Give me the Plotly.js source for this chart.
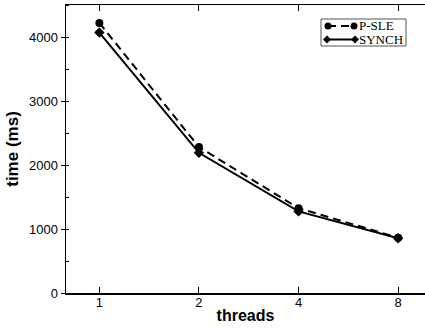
<!DOCTYPE html>
<html>
<head>
<meta charset="utf-8">
<script src="https://cdn.plot.ly/plotly-3.0.1.min.js"></script>
<style>html,body{margin:0;padding:0;background:#fff;}#chart{width:425px;height:328px;}</style>
</head>
<body>
<div id="chart"></div>
<script>
const threads = ['1', '2', '4', '8'];
const psle = [4220, 2280, 1325, 865];
const synch = [4070, 2190, 1275, 855];
const seriesNames = ['P-SLE', 'SYNCH'];
const yTicks = [0, 1000, 2000, 3000, 4000];

const traces = [
  {
    x: threads, y: psle, name: seriesNames[0], type: 'scatter', mode: 'lines+markers',
    line: {color: '#000', width: 2, dash: '8px,5px'},
    marker: {symbol: 'circle', size: 8, color: '#000'}
  },
  {
    x: threads, y: synch, name: seriesNames[1], type: 'scatter', mode: 'lines+markers',
    line: {color: '#000', width: 2},
    marker: {symbol: 'diamond', size: 8, color: '#000'}
  }
];

// Compact legend drawn as decoration (plot area: 66..425 px wide, 5..293 px tall)
const W = 359, H = 288;
function px(x) { return (x - 66) / W; }
function py(y) { return (293 - y) / H; }
function circ(cx, cy, r) {
  return {type: 'circle', xref: 'paper', yref: 'paper', x0: px(cx - r), x1: px(cx + r), y0: py(cy + r), y1: py(cy - r),
    fillcolor: '#000', line: {color: '#000', width: 0}};
}
function diam(cx, cy, r) {
  return {type: 'path', xref: 'paper', yref: 'paper',
    path: 'M' + px(cx - r) + ',' + py(cy) + ' L' + px(cx) + ',' + py(cy - r) + ' L' + px(cx + r) + ',' + py(cy) + ' L' + px(cx) + ',' + py(cy + r) + ' Z',
    fillcolor: '#000', line: {color: '#000', width: 0}};
}
const shapes = [
  {type: 'rect', xref: 'paper', yref: 'paper', x0: px(321), x1: px(406), y0: py(46), y1: py(19),
    fillcolor: '#fff', line: {color: '#555', width: 1}},
  {type: 'line', xref: 'paper', yref: 'paper', x0: px(328), x1: px(354), y0: py(26), y1: py(26),
    line: {color: '#000', width: 2, dash: '8px,5px'}},
  circ(328, 26, 3.5), circ(354, 26, 3.5),
  {type: 'line', xref: 'paper', yref: 'paper', x0: px(327), x1: px(355), y0: py(39.5), y1: py(39.5),
    line: {color: '#000', width: 2}},
  diam(327, 39.5, 4), diam(355, 39.5, 4)
];
const annotations = [
  {xref: 'paper', yref: 'paper', x: px(357), y: py(26), xanchor: 'left', yanchor: 'middle', showarrow: false,
    text: seriesNames[0], font: {family: 'Liberation Serif, serif', size: 13, color: '#000'}},
  {xref: 'paper', yref: 'paper', x: px(357), y: py(39.5), xanchor: 'left', yanchor: 'middle', showarrow: false,
    text: seriesNames[1], font: {family: 'Liberation Serif, serif', size: 13, color: '#000'}}
];

const layout = {
  width: 425, height: 328,
  margin: {l: 66, r: 0, t: 5, b: 35},
  paper_bgcolor: '#fff', plot_bgcolor: '#fff',
  showlegend: false,
  shapes: shapes,
  annotations: annotations,
  xaxis: {
    type: 'category', range: [-0.335, 3.27],
    showgrid: false, zeroline: false,
    showline: true, linecolor: '#000', linewidth: 1.5, mirror: 'ticks',
    ticks: 'inside', ticklen: 6, tickcolor: '#000', tickwidth: 1,
    tickfont: {family: 'Liberation Sans, Arial, sans-serif', size: 13, color: '#000'},
    ticklabelstandoff: -3,
    title: {text: 'threads', font: {family: 'Liberation Sans, Arial, sans-serif', size: 16, color: '#000', weight: 'bold'}, standoff: 0}
  },
  yaxis: {
    range: [0, 4500], tickvals: yTicks,
    showgrid: false, zeroline: false,
    showline: true, linecolor: '#000', linewidth: 1.5,
    ticks: 'outside', ticklen: 4, tickcolor: '#000', tickwidth: 1,
    minor: {dtick: 500, ticks: 'inside', ticklen: 3, tickcolor: '#000', showgrid: false},
    tickfont: {family: 'Liberation Sans, Arial, sans-serif', size: 13, color: '#000'},
    title: {text: 'time (ms)', font: {family: 'Liberation Sans, Arial, sans-serif', size: 17, color: '#000', weight: 'bold'}, standoff: 6}
  }
};

Plotly.newPlot('chart', traces, layout, {displayModeBar: false, staticPlot: true});
</script>
</body>
</html>
